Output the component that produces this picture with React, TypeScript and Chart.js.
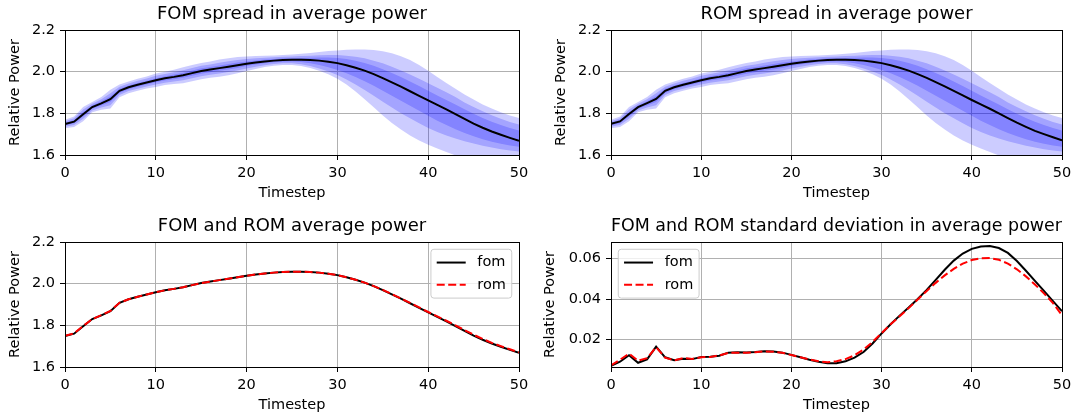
import React, { useEffect, useRef } from "react";
import { Chart, registerables } from "chart.js";

Chart.register(...registerables);

const FONT = "'DejaVu Sans', 'Liberation Sans', sans-serif";

// ---------- data ----------
const timesteps = [
  0, 1, 2, 3, 4, 5, 6, 7, 8, 9, 10, 11, 12, 13, 14, 15, 16, 17, 18, 19, 20, 21, 22, 23, 24, 25,
  26, 27, 28, 29, 30, 31, 32, 33, 34, 35, 36, 37, 38, 39, 40, 41, 42, 43, 44, 45, 46, 47, 48, 49, 50,
];

const fomMean = [
  1.749, 1.760, 1.796, 1.830, 1.848, 1.868, 1.908, 1.925, 1.937, 1.948,
  1.959, 1.968, 1.975, 1.983, 1.993, 2.003, 2.010, 2.017, 2.024, 2.031,
  2.038, 2.044, 2.049, 2.053, 2.056, 2.057, 2.057, 2.056, 2.053, 2.048,
  2.041, 2.031, 2.019, 2.005, 1.988, 1.969, 1.949, 1.928, 1.906, 1.884,
  1.862, 1.841, 1.819, 1.796, 1.773, 1.751, 1.731, 1.713, 1.697, 1.682,
  1.668,
];

const romMean = [
  1.750, 1.761, 1.797, 1.830, 1.849, 1.869, 1.908, 1.925, 1.937, 1.948,
  1.959, 1.968, 1.975, 1.983, 1.993, 2.003, 2.010, 2.017, 2.024, 2.031,
  2.038, 2.044, 2.049, 2.053, 2.056, 2.057, 2.057, 2.056, 2.053, 2.048,
  2.041, 2.031, 2.019, 2.005, 1.988, 1.970, 1.950, 1.929, 1.908, 1.886,
  1.864, 1.843, 1.822, 1.800, 1.777, 1.755, 1.735, 1.716, 1.700, 1.685,
  1.670,
];

const fomStd = [
  0.0070, 0.0090, 0.0122, 0.0085, 0.0102, 0.0165, 0.0112, 0.0098, 0.0105, 0.0103,
  0.0113, 0.0115, 0.0120, 0.0135, 0.0137, 0.0136, 0.0138, 0.0142, 0.0141, 0.0135,
  0.0124, 0.0112, 0.0100, 0.0090, 0.0083, 0.0083, 0.0092, 0.0110, 0.0138, 0.0180,
  0.0230, 0.0275, 0.0318, 0.0358, 0.0400, 0.0445, 0.0495, 0.0545, 0.0590, 0.0625,
  0.0648, 0.0660, 0.0662, 0.0652, 0.0628, 0.0588, 0.0540, 0.0490, 0.0440, 0.0390,
  0.0340,
];

const romStd = [
  0.0072, 0.0100, 0.0130, 0.0095, 0.0108, 0.0162, 0.0110, 0.0097, 0.0108, 0.0104,
  0.0112, 0.0114, 0.0121, 0.0134, 0.0135, 0.0135, 0.0137, 0.0141, 0.0140, 0.0134,
  0.0123, 0.0112, 0.0101, 0.0092, 0.0088, 0.0092, 0.0103, 0.0122, 0.0150, 0.0188,
  0.0232, 0.0275, 0.0315, 0.0355, 0.0398, 0.0440, 0.0480, 0.0517, 0.0549, 0.0575,
  0.0593, 0.0602, 0.0603, 0.0594, 0.0575, 0.0547, 0.0512, 0.0472, 0.0428, 0.0380,
  0.0320,
];

// spread bands (outer = 3, inner = 1)
const bandUpper3 = [
  1.769, 1.785, 1.830, 1.855, 1.879, 1.913, 1.939, 1.953, 1.966, 1.977,
  1.991, 2.000, 2.009, 2.021, 2.032, 2.042, 2.049, 2.058, 2.065, 2.070,
  2.073, 2.075, 2.076, 2.078, 2.080, 2.082, 2.086, 2.090, 2.095, 2.099,
  2.102, 2.105, 2.107, 2.107, 2.104, 2.098, 2.088, 2.074, 2.056, 2.032,
  2.004, 1.975, 1.946, 1.918, 1.891, 1.866, 1.843, 1.823, 1.805, 1.790,
  1.778,
];
const bandUpper2 = [
  1.762, 1.776, 1.818, 1.846, 1.868, 1.897, 1.928, 1.943, 1.956, 1.967,
  1.980, 1.989, 1.997, 2.007, 2.018, 2.028, 2.035, 2.043, 2.050, 2.056,
  2.061, 2.064, 2.067, 2.069, 2.072, 2.073, 2.075, 2.077, 2.079, 2.080,
  2.080, 2.077, 2.072, 2.064, 2.053, 2.040, 2.024, 2.006, 1.986, 1.966,
  1.945, 1.923, 1.901, 1.879, 1.852, 1.830, 1.810, 1.791, 1.774, 1.759,
  1.746,
];
const bandUpper1 = [
  1.755, 1.768, 1.807, 1.838, 1.858, 1.882, 1.918, 1.934, 1.946, 1.957,
  1.969, 1.978, 1.986, 1.995, 2.006, 2.016, 2.023, 2.030, 2.037, 2.044,
  2.049, 2.054, 2.058, 2.061, 2.064, 2.065, 2.066, 2.067, 2.068, 2.068,
  2.066, 2.061, 2.053, 2.042, 2.028, 2.012, 1.994, 1.974, 1.953, 1.931,
  1.908, 1.886, 1.864, 1.842, 1.820, 1.798, 1.778, 1.760, 1.744, 1.730,
  1.718,
];
const bandLower1 = [
  1.743, 1.752, 1.785, 1.822, 1.838, 1.854, 1.898, 1.916, 1.928, 1.939,
  1.949, 1.958, 1.964, 1.971, 1.980, 1.990, 1.997, 2.004, 2.011, 2.018,
  2.027, 2.034, 2.040, 2.045, 2.048, 2.049, 2.046, 2.040, 2.032, 2.021,
  2.008, 1.992, 1.974, 1.954, 1.932, 1.909, 1.885, 1.861, 1.837, 1.812,
  1.788, 1.765, 1.744, 1.724, 1.706, 1.690, 1.676, 1.664, 1.654, 1.646,
  1.640,
];
const bandLower2 = [
  1.736, 1.744, 1.774, 1.814, 1.828, 1.839, 1.888, 1.907, 1.918, 1.929,
  1.938, 1.947, 1.953, 1.959, 1.968, 1.978, 1.985, 1.991, 1.998, 2.006,
  2.015, 2.024, 2.031, 2.037, 2.040, 2.041, 2.036, 2.027, 2.015, 2.001,
  1.984, 1.963, 1.939, 1.912, 1.884, 1.856, 1.828, 1.801, 1.776, 1.752,
  1.730, 1.711, 1.694, 1.679, 1.666, 1.655, 1.645, 1.636, 1.628, 1.622,
  1.617,
];
const bandLower3 = [
  1.729, 1.735, 1.762, 1.805, 1.817, 1.823, 1.877, 1.897, 1.908, 1.919,
  1.927, 1.936, 1.941, 1.945, 1.954, 1.964, 1.971, 1.976, 1.983, 1.992,
  2.003, 2.013, 2.022, 2.028, 2.032, 2.032, 2.027, 2.018, 2.005, 1.988,
  1.966, 1.938, 1.905, 1.868, 1.829, 1.790, 1.754, 1.722, 1.694, 1.670,
  1.649, 1.631, 1.614, 1.598, 1.585, 1.574, 1.566, 1.560, 1.555, 1.552,
  1.550,
];

const timeTicks = [0, 10, 20, 30, 40, 50];
const powerTicks = [1.6, 1.8, 2.0, 2.2];
const stdTicks = [0.02, 0.04, 0.06];

// ---------- helpers ----------
const pts = (ys: number[]) => timesteps.map((x, i) => ({ x, y: ys[i] }));

const BAND = "rgba(0,0,255,0.2)";
const TRANSPARENT = "rgba(0,0,0,0)";
const DASH = [8, 3.5];

const alignPx = (p: number) => Math.round(p - 0.5) + 0.5;

const framePlugin = {
  id: "frame",
  afterDatasetsDraw(chart: any) {
    const { ctx, chartArea: a } = chart;
    ctx.save();
    ctx.strokeStyle = "#000";
    ctx.lineWidth = 1;
    ctx.setLineDash([]);
    const l = alignPx(a.left), r = alignPx(a.right), t = alignPx(a.top), b = alignPx(a.bottom);
    ctx.strokeRect(l, t, r - l, b - t);
    ctx.restore();
  },
};

const innerLegendPlugin = {
  id: "innerLegend",
  afterDraw(chart: any, _args: any, opts: any) {
    if (!opts || !opts.display) return;
    const { ctx, chartArea: a } = chart;
    const fs = 14.5;
    const pad = 0.4 * fs;
    const handle = 2 * fs;
    const textPad = 0.8 * fs;
    const spacing = 0.5 * fs;
    const axPad = 0.5 * fs;
    const rowH = 15;
    ctx.save();
    ctx.font = `${fs}px ${FONT}`;
    const items = chart.data.datasets.filter((d: any) => d.label);
    const tw = Math.max(...items.map((d: any) => ctx.measureText(d.label).width));
    const w = pad + handle + textPad + tw + pad;
    const h = pad * 2 + items.length * rowH + (items.length - 1) * spacing;
    const x0 = opts.align === "right" ? a.right - axPad - w : a.left + axPad;
    const y0 = a.top + axPad;
    const rr = 3;
    ctx.beginPath();
    ctx.moveTo(x0 + rr, y0);
    ctx.lineTo(x0 + w - rr, y0);
    ctx.quadraticCurveTo(x0 + w, y0, x0 + w, y0 + rr);
    ctx.lineTo(x0 + w, y0 + h - rr);
    ctx.quadraticCurveTo(x0 + w, y0 + h, x0 + w - rr, y0 + h);
    ctx.lineTo(x0 + rr, y0 + h);
    ctx.quadraticCurveTo(x0, y0 + h, x0, y0 + h - rr);
    ctx.lineTo(x0, y0 + rr);
    ctx.quadraticCurveTo(x0, y0, x0 + rr, y0);
    ctx.closePath();
    ctx.fillStyle = "rgba(255,255,255,0.8)";
    ctx.fill();
    ctx.strokeStyle = "#cccccc";
    ctx.lineWidth = 1;
    ctx.stroke();
    items.forEach((d: any, i: number) => {
      const cy = y0 + pad + rowH / 2 + i * (rowH + spacing);
      ctx.beginPath();
      ctx.setLineDash(d.borderDash || []);
      ctx.strokeStyle = d.borderColor;
      ctx.lineWidth = d.borderWidth;
      ctx.moveTo(x0 + pad, cy);
      ctx.lineTo(x0 + pad + handle, cy);
      ctx.stroke();
      ctx.setLineDash([]);
      ctx.fillStyle = "#000";
      ctx.textBaseline = "middle";
      ctx.textAlign = "left";
      ctx.fillText(d.label, x0 + pad + handle + textPad, cy);
    });
    ctx.restore();
  },
};

type PanelSpec = {
  title: string;
  datasets: any[];
  yMin: number;
  yMax: number;
  yTicks: number[];
  yDigits: number;
  yAxisWidth: number;
  yTitlePad: number;
  titlePadTop: number;
  legend?: "left" | "right";
};

function buildConfig(p: PanelSpec): any {
  const tickFont = { family: FONT, size: 14.5 };
  const labelFont = { family: FONT, size: 14.5, lineHeight: 1.2 };
  return {
    type: "line",
    data: { datasets: p.datasets },
    options: {
      responsive: false,
      animation: false,
      devicePixelRatio: 1,
      layout: { padding: { left: 0, right: 10, top: 0, bottom: 0 } },
      elements: { point: { radius: 0 }, line: { tension: 0 } },
      plugins: {
        legend: { display: false },
        tooltip: { enabled: false },
        title: {
          display: true,
          text: p.title,
          fullSize: false,
          color: "#000",
          font: { family: FONT, size: 18, lineHeight: 1.2, weight: "normal" },
          padding: { top: p.titlePadTop, bottom: 5.2 },
        },
        innerLegend: { display: !!p.legend, align: p.legend },
      },
      scales: {
        x: {
          type: "linear",
          min: 0,
          max: 50,
          afterBuildTicks: (s: any) => {
            s.ticks = timeTicks.map((v) => ({ value: v }));
          },
          afterFit: (s: any) => {
            s.height = 48;
            s.paddingLeft = 0;
            s.paddingRight = 0;
          },
          grid: { color: "#b0b0b0", lineWidth: 1, tickColor: "#000", tickLength: 5, drawTicks: true },
          border: { display: false },
          ticks: {
            color: "#000",
            font: tickFont,
            padding: 5,
            maxRotation: 0,
            autoSkip: false,
            callback: (v: any) => String(v),
          },
          title: {
            display: true,
            text: "Timestep",
            color: "#000",
            font: labelFont,
            padding: { top: 0, bottom: 1.3 },
          },
        },
        y: {
          type: "linear",
          min: p.yMin,
          max: p.yMax,
          afterBuildTicks: (s: any) => {
            s.ticks = p.yTicks.map((v) => ({ value: v }));
          },
          afterFit: (s: any) => {
            s.width = p.yAxisWidth;
            s.paddingTop = 0;
            s.paddingBottom = 0;
          },
          grid: { color: "#b0b0b0", lineWidth: 1, tickColor: "#000", tickLength: 5, drawTicks: true },
          border: { display: false },
          ticks: {
            color: "#000",
            font: tickFont,
            padding: 5,
            autoSkip: false,
            callback: (v: any) => Number(v).toFixed(p.yDigits),
          },
          title: {
            display: true,
            text: "Relative Power",
            color: "#000",
            font: labelFont,
            padding: { top: p.yTitlePad, bottom: 0 },
          },
        },
      },
    },
    plugins: [framePlugin, innerLegendPlugin],
  };
}

function spreadDatasets(meanValues: number[]) {
  const band = (data: number[], fill: any) => ({
    data: pts(data),
    borderColor: TRANSPARENT,
    borderWidth: 0,
    backgroundColor: BAND,
    fill,
    pointRadius: 0,
  });
  return [
    { data: pts(meanValues), borderColor: "#000", borderWidth: 2, pointRadius: 0, fill: false },
    band(bandUpper1, 2),
    band(bandLower1, false),
    band(bandUpper2, 4),
    band(bandLower2, false),
    band(bandUpper3, 6),
    band(bandLower3, false),
  ];
}

function compareDatasets(fom: number[], rom: number[]) {
  return [
    { label: "fom", data: pts(fom), borderColor: "#000", borderWidth: 2, pointRadius: 0, fill: false, order: 2 },
    {
      label: "rom",
      data: pts(rom),
      borderColor: "#ff0000",
      borderWidth: 2,
      borderDash: DASH,
      pointRadius: 0,
      fill: false,
      order: 1,
    },
  ];
}

function Panel(props: { left: number; top: number; width: number; height: number; spec: PanelSpec }) {
  const ref = useRef<HTMLCanvasElement>(null);
  useEffect(() => {
    const chart = new Chart(ref.current as HTMLCanvasElement, buildConfig(props.spec));
    return () => chart.destroy();
  }, []);
  return (
    <canvas
      ref={ref}
      width={props.width}
      height={props.height}
      style={{ position: "absolute", left: props.left, top: props.top, width: props.width, height: props.height }}
    />
  );
}

export default function App() {
  return (
    <div style={{ position: "fixed", left: 0, top: 0, width: 1076, height: 416, background: "#fff", overflow: "hidden" }}>
      <Panel
        left={0}
        top={0}
        width={529}
        height={203}
        spec={{
          title: "FOM spread in average power",
          datasets: spreadDatasets(fomMean),
          yMin: 1.6,
          yMax: 2.2,
          yTicks: powerTicks,
          yDigits: 1,
          yAxisWidth: 65,
          yTitlePad: 6.8,
          titlePadTop: 3.2,
        }}
      />
      <Panel
        left={540}
        top={0}
        width={532}
        height={203}
        spec={{
          title: "ROM spread in average power",
          datasets: spreadDatasets(romMean),
          yMin: 1.6,
          yMax: 2.2,
          yTicks: powerTicks,
          yDigits: 1,
          yAxisWidth: 71,
          yTitlePad: 12.3,
          titlePadTop: 3.2,
        }}
      />
      <Panel
        left={0}
        top={210}
        width={529}
        height={205}
        spec={{
          title: "FOM and ROM average power",
          datasets: compareDatasets(fomMean, romMean),
          yMin: 1.6,
          yMax: 2.2,
          yTicks: powerTicks,
          yDigits: 1,
          yAxisWidth: 65,
          yTitlePad: 6.8,
          titlePadTop: 5.2,
          legend: "right",
        }}
      />
      <Panel
        left={540}
        top={210}
        width={532}
        height={205}
        spec={{
          title: "FOM and ROM standard deviation in average power",
          datasets: compareDatasets(fomStd, romStd),
          yMin: 0.0064,
          yMax: 0.0682,
          yTicks: stdTicks,
          yDigits: 2,
          yAxisWidth: 71,
          yTitlePad: 1.3,
          titlePadTop: 5.2,
          legend: "left",
        }}
      />
    </div>
  );
}
